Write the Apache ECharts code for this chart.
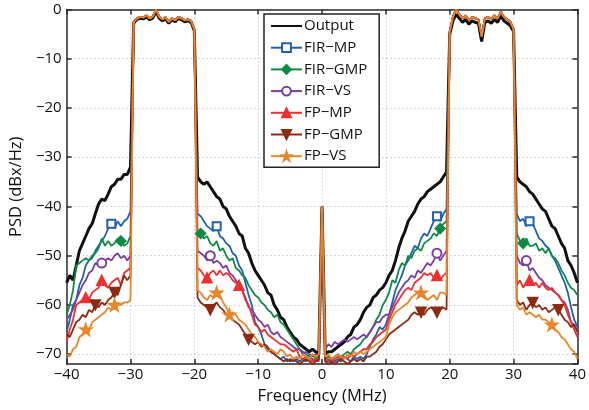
<!DOCTYPE html>
<html><head><meta charset="utf-8">
<script src="https://cdn.jsdelivr.net/npm/echarts@6/dist/echarts.min.js"></script>
<style>html,body{margin:0;padding:0;background:#fff}#c{width:589px;height:410px}</style>
</head><body><div id="c"></div>
<script>
// Frequency samples (MHz)
const freq = [-40,-39.5,-39,-38.5,-38,-37.5,-37,-36.5,-36,-35.5,-35,-34.5,-34,-33.5,-33,-32.5,-32,-31.5,-31,-30.5,-30,
-29.5,-29,-28.5,-28,-27.5,-27,-26.5,-26,-25.5,-25,-24.5,-24,-23.5,-23,-22.5,-22,-21.5,-21,-20.5,-20,
-19.5,-19,-18.5,-18,-17.5,-17,-16.5,-16,-15.5,-15,-14.5,-14,-13.5,-13,-12.5,-12,-11.5,-11,-10.5,-10,-9.5,-9,-8.5,-8,-7.5,-7,-6.5,-6,-5.5,-5,-4.5,-4,-3.5,-3,-2.5,-2,-1.5,-1,-0.5,
0,
0.5,1,1.5,2,2.5,3,3.5,4,4.5,5,5.5,6,6.5,7,7.5,8,8.5,9,9.5,10,10.5,11,11.5,12,12.5,13,13.5,14,14.5,15,15.5,16,16.5,17,17.5,18,18.5,19,19.5,
20,20.5,21,21.5,22,22.5,23,23.5,24,24.5,25,25.5,26,26.5,27,27.5,28,28.5,29,29.5,30,
30.5,31,31.5,32,32.5,33,33.5,34,34.5,35,35.5,36,36.5,37,37.5,38,38.5,39,39.5,40];

const xTicks = [-40,-30,-20,-10,0,10,20,30,40];
const yTicks = [-70,-60,-50,-40,-30,-20,-10,0];

const output = [-55.5,-54,-55,-52,-49,-47.5,-46,-44.5,-43.5,-41.5,-39.5,-38.5,-38.8,-37.5,-36,-35.5,-34.5,-34.5,-33.5,-33.5,-32,
-2.8,-2,-1.8,-1.9,-1.5,-2.1,-1.7,-0.4,-1.8,-2.3,-1.9,-2.8,-2.1,-2.5,-1.8,-2.1,-2.5,-2.3,-2.6,-4.3,
-34,-35,-35.5,-35,-36,-37,-38,-38.5,-40,-40.5,-42,-43,-44,-45.5,-46,-48.5,-49.5,-51.5,-53,-54,-55,-56,-57.5,-58,-60,-61,-62.5,-63,-64.5,-65.5,-66.5,-67,-68,-68.5,-69,-69.5,-69,-69.5,-70,
-40,
-70,-69.5,-69.5,-69,-68.5,-68,-67.5,-66.5,-66,-64.5,-64,-63,-61.5,-60.5,-60,-58.5,-58,-57,-56.5,-55.5,-54,-53,-51,-48.5,-46.5,-45,-43,-42,-41,-39.5,-38.5,-38,-37,-36.5,-36,-35.5,-35,-34,-33,
-5,-2.3,-1,-1.8,-2.6,-2,-3,-2.3,-2.6,-2.8,-6.5,-2.6,-2.3,-2.8,-2,-2.6,-1.3,-2.3,-2.8,-3.3,-4.5,
-34,-35,-35.5,-36,-37,-37.5,-38.5,-39.5,-40.5,-41,-42.5,-44,-44.5,-46,-47.5,-48.5,-51,-52,-53.5,-55.5];

const firMP = [-65.5,-63,-60,-59,-56,-54.5,-52,-51,-50.5,-49,-48,-47,-46,-44.5,-43.5,-44.5,-43,-44,-43,-42.5,-41,
-2.5,-1.8,-1.5,-1.6,-1.2,-1.8,-1.4,0,-1.5,-2,-1.6,-2.5,-1.8,-2.2,-1.5,-1.8,-2.2,-2,-2.3,-4,
-41.5,-42,-43,-44,-44.5,-45,-44,-46,-46.5,-47.5,-48,-49.5,-50,-52,-53,-55.5,-58,-60,-63.5,-64.5,-66,-68,-68.5,-69.5,-70,-70.5,-71,-70.5,-71.5,-71,-71.5,-71,-71.5,-71,-71.5,-70.5,-71,-71.5,-71,
-40,
-71,-71.5,-71,-71.5,-71,-71.5,-70.5,-71,-71.5,-70.5,-71,-70.5,-71,-70,-68.5,-67,-66,-64.5,-65,-64,-62,-59.5,-57,-55.5,-54,-52,-51,-49.5,-48,-48.5,-46.5,-45.5,-46,-44.5,-43,-42,-43,-41.5,-40.5,
-4.5,-1.5,0,-1,-1.8,-1.2,-2.2,-1.5,-1.8,-2,-5.5,-1.8,-1.5,-2,-1.2,-1.8,-0.5,-1.5,-2,-2.5,-4,
-41.5,-43,-42.5,-44,-43,-43.5,-45,-46.5,-47,-48,-48.5,-50,-51,-52.5,-54,-55.5,-57.5,-60.5,-63,-64.5];

const firGMP = [-62,-60,-57,-52,-51.5,-51,-50.5,-51,-50,-49.5,-48.5,-46.5,-48,-47,-48,-47.5,-46.5,-47,-48,-47.5,-46,
-2.5,-1.8,-1.5,-1.6,-1.2,-1.8,-1.4,0,-1.5,-2,-1.6,-2.5,-1.8,-2.2,-1.5,-1.8,-2.2,-2,-2.3,-4,
-45,-45.5,-46.5,-46,-47.5,-48,-47,-49,-48.5,-50,-51,-50.5,-52.5,-53,-54,-54.5,-56,-57,-58,-58.5,-59.5,-60,-61,-61.5,-62.5,-62,-63.5,-64,-65,-66,-67,-68,-69,-69.5,-70,-70.5,-70,-71,-70.5,
-40,
-71,-70.5,-71,-70.5,-70,-70.5,-70,-69.5,-70,-69,-68.5,-68,-67,-66.5,-65.5,-64.5,-63,-62,-60,-59,-57.5,-55,-55.5,-53,-51.5,-52,-50,-50.5,-49,-48.5,-49,-47.5,-47,-46.5,-45.5,-46,-44.5,-43.5,-43,
-4.5,-1.5,0,-1,-1.8,-1.2,-2.2,-1.5,-1.8,-2,-5.5,-1.8,-1.5,-2,-1.2,-1.8,-0.5,-1.5,-2,-2.5,-4,
-45.5,-47,-47.5,-46.5,-48,-48,-47.5,-49,-48.5,-49.5,-48.5,-50,-50.5,-51.5,-53,-54,-55.5,-56.5,-57,-58];

const firVS = [-63,-62,-61,-59,-57.5,-56,-55,-53.5,-53,-51.5,-52,-51.5,-51,-50.5,-51,-50,-49.5,-50.5,-50,-51,-50,
-2.5,-1.8,-1.5,-1.6,-1.2,-1.8,-1.4,0,-1.5,-2,-1.6,-2.5,-1.8,-2.2,-1.5,-1.8,-2.2,-2,-2.3,-4,
-49,-49.5,-50,-51,-50,-51.5,-51,-51.5,-52.5,-52,-53.5,-54,-55,-56,-57,-58.5,-60.5,-61,-62,-63,-63.5,-64.5,-64,-65.5,-66,-65.5,-66.5,-67,-67.5,-68,-68.5,-69,-69,-70,-69.5,-70,-70.5,-70,-70.5,
-40,
-69,-68,-68.5,-67.5,-68,-67.5,-67,-67.5,-67,-66.5,-67,-66.5,-66,-66.5,-65.5,-64.5,-63.5,-63.5,-62.5,-62,-62,-60.5,-59,-57.5,-56.5,-55.5,-55,-54,-54.5,-53,-53.5,-52.5,-51.5,-52,-51,-49.5,-51,-50,-49,
-4.5,-1.5,0,-1,-1.8,-1.2,-2.2,-1.5,-1.8,-2,-5.5,-1.8,-1.5,-2,-1.2,-1.8,-0.5,-1.5,-2,-2.5,-4,
-50,-51.5,-52,-51,-53,-52.5,-53.5,-54.5,-55,-56,-56.5,-57,-57.5,-58,-59,-59.5,-61,-63.5,-64,-65.5];

const fpMP = [-67.5,-65,-63,-60,-59.5,-59,-58.5,-59,-57.5,-57,-56.5,-55,-56,-56.5,-55.5,-55,-54.5,-56,-53.5,-53,-52.5,
-2.5,-1.8,-1.5,-1.6,-1.2,-1.8,-1.4,0,-1.5,-2,-1.6,-2.5,-1.8,-2.2,-1.5,-1.8,-2.2,-2,-2.3,-4,
-52.5,-53,-54,-54.5,-53.5,-53,-54,-53,-54,-53.5,-54,-55,-55.5,-56,-57,-59,-60,-62,-64,-64.5,-65.5,-65,-66,-66.5,-67,-67.5,-68,-68,-68.5,-69,-69.5,-69,-70.5,-71,-70.5,-71,-71.5,-71,-71.5,
-40,
-71.5,-71,-71.5,-71,-70.5,-71,-70.5,-71,-70,-70.5,-70,-69.5,-69,-69,-68,-67.5,-66.5,-66,-65.5,-65,-63,-61.5,-60,-59,-58,-57,-56.5,-57,-55.5,-55,-54.5,-53.5,-54,-53.5,-54.5,-54,-55,-54,-53.5,
-4.5,-1.5,0,-1,-1.8,-1.2,-2.2,-1.5,-1.8,-2,-5.5,-1.8,-1.5,-2,-1.2,-1.8,-0.5,-1.5,-2,-2.5,-4,
-56,-55,-56.5,-55.5,-55,-56,-55.5,-56.5,-55.5,-56.5,-57,-56.5,-57.5,-58,-59,-60,-62,-63.5,-65,-66.5];

const fpGMP = [-66,-66.5,-65,-63.5,-63,-62,-62.5,-61,-61.5,-60,-60.5,-59.5,-60,-59,-58.5,-57.5,-58,-56,-54,-55,-54,
-2.5,-1.8,-1.5,-1.6,-1.2,-1.8,-1.4,0,-1.5,-2,-1.6,-2.5,-1.8,-2.2,-1.5,-1.8,-2.2,-2,-2.3,-4,
-58.5,-59.5,-60,-60.5,-61,-60,-59.5,-60.5,-61,-62,-62.5,-63,-63.5,-64,-65,-66,-67,-67.5,-68,-67.5,-68.5,-68,-69,-69.5,-70,-70.5,-71,-71.5,-71,-71.5,-71,-71.5,-72,-71.5,-71,-71.5,-72,-71.5,-71,
-40,
-71.5,-72,-71.5,-72,-71.5,-71,-71.5,-72,-71.5,-71,-71.5,-71,-71.5,-70.5,-70.5,-70,-69.5,-68.5,-68,-67,-66,-65.5,-65,-64.5,-64,-63.5,-63,-62,-61.5,-62,-61.5,-62,-61,-60.5,-61,-61.5,-61,-60.5,-61,
-4.5,-1.5,0,-1,-1.8,-1.2,-2.2,-1.5,-1.8,-2,-5.5,-1.8,-1.5,-2,-1.2,-1.8,-0.5,-1.5,-2,-2.5,-4,
-59,-60,-59.5,-61,-60,-59.5,-60.5,-60,-61,-60.5,-61.5,-61,-60.5,-61,-62,-63,-63.5,-64.5,-64,-65.5];

const fpVS = [-70,-70.5,-69,-68.5,-66.5,-66,-65,-65.5,-63.5,-63,-62.5,-62,-61.5,-60.5,-61,-60,-59.5,-60,-59.5,-59.5,-59,
-2.5,-1.8,-1.5,-1.6,-1.2,-1.8,-1.4,0,-1.5,-2,-1.6,-2.5,-1.8,-2.2,-1.5,-1.8,-2.2,-2,-2.3,-4,
-57,-57.5,-58.5,-59,-58,-58.5,-57.5,-58,-59.5,-60.5,-62,-61.5,-62,-63,-63.5,-64,-65,-66,-66.5,-67.5,-68,-68.5,-69.5,-69,-69.5,-70,-69,-69.5,-70.5,-70,-71,-70.5,-71,-70,-70.5,-71,-70,-70.5,-70,
-40,
-70.5,-70,-71,-70.5,-70,-70.5,-71,-70,-70.5,-69.5,-70,-69.5,-70,-69.5,-69,-68.5,-68,-67.5,-67,-66.5,-64,-62.5,-61.5,-61,-60.5,-60,-59.5,-58.5,-58,-57.5,-57.5,-58,-59,-58.5,-58,-59,-57.5,-57.5,-58,
-4.5,-1.5,0,-1,-1.8,-1.2,-2.2,-1.5,-1.8,-2,-5.5,-1.8,-1.5,-2,-1.2,-1.8,-0.5,-1.5,-2,-2.5,-4,
-60,-61,-60.5,-62,-61.5,-62,-62.5,-62,-63,-63,-63.5,-64,-65,-65.5,-66.5,-67,-68,-69,-69.5,-71];

// Frequencies where markers are drawn
const marksFIRMP = [-33,-16.5,18,32.5];
const marksFIRGMP = [-31.5,-19,18.5,31.5];
const marksFIRVS = [-34.5,-17.5,18,32];
const marksFPMP = [-37,-34.5,-18,-13,18,32.5];
const marksFPGMP = [-35.5,-32.5,-17.5,-11.5,15.5,18,33,37];
const marksFPVS = [-37,-32.5,-16.5,-14.5,15.5,36];

const names = ['Output','FIR\u2212MP','FIR\u2212GMP','FIR\u2212VS','FP\u2212MP','FP\u2212GMP','FP\u2212VS'];

const FONT = 'Open Sans';
const minus = v => String(v).replace('-', '\u2212');

function mk(name, vals, color, width, symbol, marks, size) {
  return {
    name, type: 'line', animation: false, clip: true,
    symbol: symbol, symbolSize: size, showSymbol: true,
    lineStyle: { color, width }, itemStyle: { color, borderWidth: 1.5, borderColor: color },
    emphasis: { disabled: true },
    data: freq.map((f, i) => ({ value: [f, vals[i]], symbol: marks.includes(f) ? symbol : 'none' }))
  };
}

const chart = echarts.init(document.getElementById('c'), null, { renderer: 'canvas' });
const axisLineStyle = { color: '#2b2b2b', width: 1.5 };
const gridLine = { show: true, lineStyle: { color: '#b5b5b5', type: [1, 3], width: 1 } };
const legendData = names.map((n, i) => i === 0
  ? { name: n, itemStyle: { color: 'rgba(0,0,0,0)', borderColor: 'rgba(0,0,0,0)', opacity: 0 } }
  : { name: n });
chart.setOption({
  backgroundColor: '#fff',
  animation: false,
  grid: { left: 62, right: 6, top: 9.5, bottom: 40.5 },
  legend: {
    orient: 'vertical', left: 264, top: 14,
    data: legendData,
    itemWidth: 31, itemHeight: 11, itemGap: 3.7,
    padding: [3, 12, 2, 6],
    backgroundColor: '#fff', borderColor: '#222', borderWidth: 1.5,
    textStyle: { fontFamily: FONT, fontSize: 15, color: '#111', lineHeight: 18, padding: [0, 0, 0, -3] },
    selectedMode: false
  },
  xAxis: [{
    type: 'value', min: -40, max: 40, interval: 10,
    name: 'Frequency (MHz)', nameLocation: 'middle', nameGap: 24,
    nameTextStyle: { fontFamily: FONT, fontSize: 16.5, color: '#111' },
    axisLine: { show: true, onZero: false, lineStyle: axisLineStyle },
    axisTick: { show: true, inside: true, length: 5, lineStyle: axisLineStyle },
    axisLabel: { fontFamily: FONT, fontSize: 15, color: '#111', margin: 3, formatter: v => xTicks.includes(v) ? minus(v) : '' },
    splitLine: gridLine
  }, {
    type: 'value', min: -40, max: 40, interval: 10, position: 'top',
    axisLine: { show: true, onZero: false, lineStyle: axisLineStyle },
    axisTick: { show: true, inside: true, length: 5, lineStyle: axisLineStyle },
    axisLabel: { show: false }, splitLine: { show: false }
  }],
  yAxis: [{
    type: 'value', min: -72, max: 0, splitNumber: 7,
    name: 'PSD (dBx/Hz)', nameLocation: 'middle', nameGap: 37,
    nameTextStyle: { fontFamily: FONT, fontSize: 16.5, color: '#111' },
    axisLine: { show: true, onZero: false, lineStyle: axisLineStyle },
    axisTick: { show: true, inside: true, length: 5, lineStyle: axisLineStyle },
    axisLabel: { fontFamily: FONT, fontSize: 15, color: '#111', margin: 5, showMinLabel: false, formatter: v => yTicks.includes(v) ? minus(v) : '' },
    splitLine: gridLine
  }, {
    type: 'value', min: -72, max: 0, splitNumber: 7, position: 'right',
    axisLine: { show: true, onZero: false, lineStyle: axisLineStyle },
    axisTick: { show: true, inside: true, length: 5, lineStyle: axisLineStyle },
    axisLabel: { show: false }, splitLine: { show: false }
  }],
  series: [
    mk(names[0], output, '#111111', 3, 'none', [], 0),
    mk(names[1], firMP, '#2160b0', 1.8, 'emptyRect', marksFIRMP, 8),
    mk(names[2], firGMP, '#0f8a46', 1.8, 'diamond', marksFIRGMP, 10),
    mk(names[3], firVS, '#7d3f9e', 1.8, 'emptyCircle', marksFIRVS, 9),
    mk(names[4], fpMP, '#ee3030', 1.8, 'triangle', marksFPMP, 10),
    mk(names[5], fpGMP, '#8b2b12', 1.8, 'path://M0,0 L10,0 L5,10 Z', marksFPGMP, 10),
    mk(names[6], fpVS, '#e8862b', 1.8, 'path://M5,0 L6.2,3.6 L10,3.6 L6.9,5.9 L8.1,9.5 L5,7.3 L1.9,9.5 L3.1,5.9 L0,3.6 L3.8,3.6 Z', marksFPVS, 12)
  ]
});
</script></body></html>
